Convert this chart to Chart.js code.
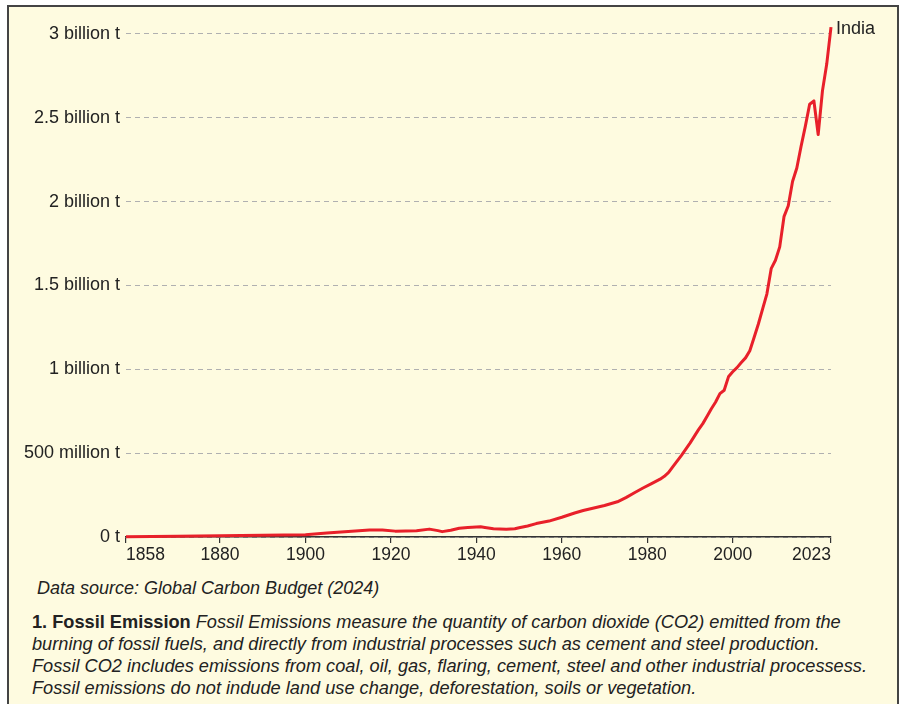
<!DOCTYPE html>
<html>
<head>
<meta charset="utf-8">
<script src="https://cdn.jsdelivr.net/npm/chart.js@4.4.1/dist/chart.umd.min.js"></script>
<style>
  body { margin: 0; background: #fff; font-family: "Liberation Sans", Arial, sans-serif; color: #222; }
  #frame { position: absolute; left: 7px; top: 5px; width: 888px; height: 720px; border: 2px solid #444; background: #fefbe0; }
  #wrap { position: absolute; left: 0; top: 0; width: 888px; height: 560px; }
  #source { position: absolute; left: 28px; top: 571px; font-size: 18px; font-style: italic; white-space: nowrap; }
  #note { position: absolute; left: 23px; top: 604px; font-size: 18.2px; line-height: 22px; font-style: italic; white-space: nowrap; }
  #note b { font-style: normal; }
</style>
</head>
<body>
<div id="frame">
  <div id="wrap"><canvas id="c1"></canvas></div>
  <div id="source">Data source: Global Carbon Budget (2024)</div>
  <div id="note"><b>1. Fossil Emission</b> Fossil Emissions measure the quantity of carbon dioxide (CO2) emitted from the<br>burning of fossil fuels, and directly from industrial processes such as cement and steel production.<br>Fossil CO2 includes emissions from coal, oil, gas, flaring, cement, steel and other industrial processess.<br>Fossil emissions do not indude land use change, deforestation, soils or vegetation.</div>
</div>
<script>
// ── India fossil CO2 emissions, million tonnes ──────────────────────
const years = [1858, 1870, 1880, 1890, 1900, 1905, 1910, 1915, 1918, 1921, 1926, 1929, 1931, 1932, 1934, 1936, 1938,
  1941, 1942, 1944, 1947, 1949, 1950, 1952, 1954, 1957, 1960, 1963, 1965, 1968, 1970, 1973, 1975, 1977, 1979,
  1981, 1983, 1984, 1985, 1986, 1988, 1990, 1992, 1993, 1994, 1995, 1996, 1997, 1998, 1999, 2000, 2001, 2002,
  2003, 2004, 2005, 2006, 2007, 2008, 2009, 2010, 2011, 2012, 2013, 2014, 2015, 2016, 2017, 2018, 2019, 2020,
  2021, 2022, 2023];
const emissions = [2, 4, 7, 10, 14, 24, 33, 42, 42, 35, 37, 47, 38, 32, 40, 52, 57,
  61, 57, 49, 46, 49, 55, 66, 80, 95, 118, 143, 158, 176, 188, 210, 235, 264, 292,
  318, 345, 362, 385, 420, 487, 560, 640, 676, 720, 765, 805, 855, 875, 955, 985, 1010, 1040,
  1068, 1111, 1190, 1270, 1360, 1450, 1600, 1650, 1730, 1910, 1975, 2120, 2200, 2330, 2450, 2580, 2600, 2400,
  2660, 2820, 3040];
const seriesName = 'India';

const xTicks = [1858, 1880, 1900, 1920, 1940, 1960, 1980, 2000, 2023];
const yTicks = [0, 500, 1000, 1500, 2000, 2500, 3000];
const yLabels = ['0 t', '500 million t', '1 billion t', '1.5 billion t', '2 billion t', '2.5 billion t', '3 billion t'];

const INK = '#222';
const RED = '#e8202a';

const endLabel = {
  id: 'endLabel',
  afterDatasetsDraw(chart) {
    const pts = chart.getDatasetMeta(0).data;
    const p = pts[pts.length - 1];
    const ctx = chart.ctx;
    ctx.save();
    ctx.fillStyle = INK;
    ctx.font = '18px "Liberation Sans", Arial, sans-serif';
    ctx.textBaseline = 'middle';
    ctx.fillText(seriesName, p.x + 5, p.y + 2);
    ctx.restore();
  }
};

new Chart(document.getElementById('c1'), {
  type: 'line',
  data: {
    datasets: [{
      label: seriesName,
      data: years.map((y, i) => ({ x: y, y: emissions[i] })),
      borderColor: RED, backgroundColor: RED, borderWidth: 3,
      pointRadius: 0, tension: 0, borderJoinStyle: 'round', clip: false
    }]
  },
  options: {
    responsive: true, maintainAspectRatio: false, animation: false,
    layout: { padding: { left: 0, right: 66, top: 15, bottom: 0 } },
    plugins: { legend: { display: false }, tooltip: { enabled: false } },
    scales: {
      x: {
        type: 'linear', min: 1858, max: 2023,
        afterBuildTicks: s => { s.ticks = xTicks.map(v => ({ value: v })); },
        afterFit: s => { s.height = 30; },
        ticks: { color: INK, font: { size: 17.5, family: '"Liberation Sans", Arial' }, padding: 2, align: 'inner', maxRotation: 0, autoSkip: false, callback: v => String(v) },
        grid: { drawOnChartArea: false, drawTicks: true, tickLength: 6, color: '#333', lineWidth: 1.2 },
        border: { display: true, color: '#333', width: 1.5 }
      },
      y: {
        min: 0, max: 3060,
        afterBuildTicks: s => { s.ticks = yTicks.map(v => ({ value: v })); },
        afterFit: s => { s.width = 117; },
        ticks: { color: INK, font: { size: 18, family: '"Liberation Sans", Arial' }, padding: 6, callback: v => yLabels[yTicks.indexOf(v)] },
        grid: { color: '#b0b0b0', lineWidth: 1, drawTicks: false },
        border: { display: false, dash: [5, 4] }
      }
    }
  },
  plugins: [endLabel]
});
</script>
</body>
</html>
